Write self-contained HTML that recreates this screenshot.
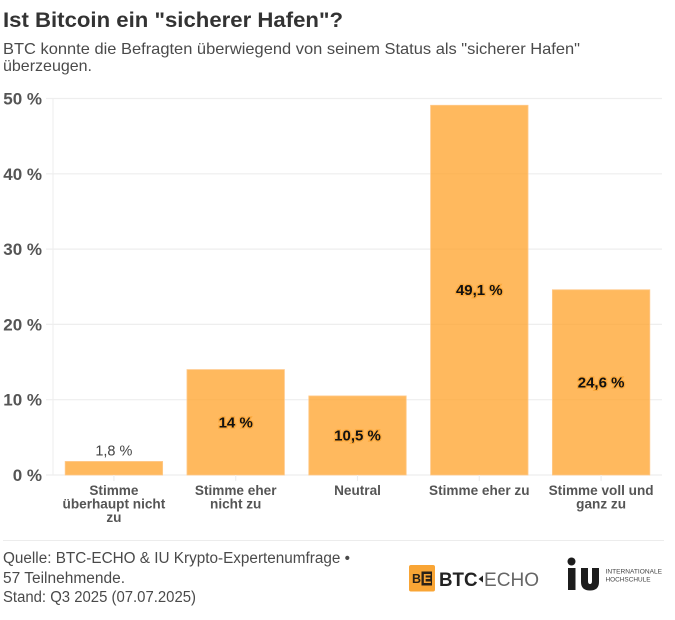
<!DOCTYPE html>
<html lang="de">
<head>
<meta charset="utf-8">
<title>Ist Bitcoin ein "sicherer Hafen"?</title>
<style>
html,body{margin:0;padding:0;background:#fff;}
#stage{position:relative;width:675px;height:620px;overflow:hidden;background:#fff;font-family:"Liberation Sans",sans-serif;}
svg{position:absolute;left:0;top:0;}
text{font-family:"Liberation Sans",sans-serif;}
</style>
</head>
<body>
<div id="stage">
<svg id="chart" width="675" height="620" viewBox="0 0 675 620">
  <text x="3" y="27" font-size="21.5" font-weight="700" fill="#333" textLength="340" lengthAdjust="spacingAndGlyphs">Ist Bitcoin ein "sicherer Hafen"?</text>
  <text x="3" y="54" font-size="16" fill="#4a4a4a" textLength="577" lengthAdjust="spacingAndGlyphs">BTC konnte die Befragten überwiegend von seinem Status als "sicherer Hafen"</text>
  <text x="3" y="71" font-size="16" fill="#4a4a4a" textLength="89" lengthAdjust="spacingAndGlyphs">überzeugen.</text>
  <g id="grid"></g>
  <g id="bars"></g>
  <g id="yticks"></g>
  <g id="xticks"></g>
  <g id="labels"></g>

  <line x1="3" x2="664" y1="540.5" y2="540.5" stroke="#ececec" stroke-width="1"/>
  <text x="3" y="563" font-size="15.5" fill="#4a4a4a" textLength="347" lengthAdjust="spacingAndGlyphs">Quelle: BTC-ECHO &amp; IU Krypto-Expertenumfrage •</text>
  <text x="3" y="583" font-size="15.5" fill="#4a4a4a" textLength="122" lengthAdjust="spacingAndGlyphs">57 Teilnehmende.</text>
  <text x="3" y="602" font-size="15.5" fill="#4a4a4a" textLength="193" lengthAdjust="spacingAndGlyphs">Stand: Q3 2025 (07.07.2025)</text>

  <g>
    <rect x="409" y="565" width="26" height="26.500" rx="2" fill="#f9a535"/>
    <rect x="421.500" y="571.500" width="10.500" height="14" fill="#2a2118"/>
    <text x="412" y="583" font-size="12.500" font-weight="700" fill="#2a2118">B</text>
    <text x="423" y="583" font-size="12.500" font-weight="700" fill="#f9a535">E</text>
    <text x="439" y="586" font-size="19.500" font-weight="700" fill="#222" textLength="38.500" lengthAdjust="spacingAndGlyphs">BTC</text>
    <polygon points="478.500,579 483,575.500 483,582.500" fill="#222"/>
    <text x="484" y="586" font-size="19.500" fill="#666" textLength="55" lengthAdjust="spacingAndGlyphs">ECHO</text>
  </g>
  <g>
    <circle cx="571.500" cy="561.500" r="4" fill="#1c1c1c"/>
    <rect x="568" y="568" width="7.500" height="22" fill="#1c1c1c"/>
    <path d="M581 568h7v13q0 3 2 3t2-3v-13h7v14q0 8.500-9 8.500t-9-8.500z" fill="#1c1c1c"/>
    <text x="605.500" y="573.500" font-size="6.500" fill="#444" textLength="56.500" lengthAdjust="spacingAndGlyphs">INTERNATIONALE</text>
    <text x="605.500" y="581.500" font-size="6.500" fill="#444" textLength="45" lengthAdjust="spacingAndGlyphs">HOCHSCHULE</text>
  </g>
</svg>
</div>
<script>
const categories = [
  ["Stimme", "überhaupt nicht", "zu"],
  ["Stimme eher", "nicht zu"],
  ["Neutral"],
  ["Stimme eher zu"],
  ["Stimme voll und", "ganz zu"]
];
const seriesValues = [1.8, 14, 10.5, 49.1, 24.6];
const valueLabels = ["1,8 %", "14 %", "10,5 %", "49,1 %", "24,6 %"];
const tickValues = [0, 10, 20, 30, 40, 50];
const tickLabels = ["0 %", "10 %", "20 %", "30 %", "40 %", "50 %"];

const NS = "http://www.w3.org/2000/svg";
const plotLeft = 53, plotRight = 662, plotBottom = 475, plotTop = 98.5, yMax = 50;
const band = (plotRight - plotLeft) / categories.length;
const barWidth = band * 0.8;
function yScale(v) { return plotBottom - (v / yMax) * (plotBottom - plotTop); }
function xCenter(i) { return plotLeft + band * (i + 0.5); }
function make(tag, attrs, parent) {
  const el = document.createElementNS(NS, tag);
  for (const k in attrs) el.setAttribute(k, attrs[k]);
  parent.appendChild(el);
  return el;
}
const gridG = document.getElementById("grid");
const barsG = document.getElementById("bars");
const yG = document.getElementById("yticks");
const xG = document.getElementById("xticks");
const labelG = document.getElementById("labels");

const axisLine = make("line", {x1: plotLeft, x2: plotLeft, y1: plotTop, y2: plotBottom, stroke: "#efefef", "stroke-width": 1.2}, gridG);



tickValues.forEach(function (v, i) {
  const y = yScale(v);
  const line = make("line", {x1: 46, x2: plotRight, y1: y, y2: y, stroke: "#eeeeee", "stroke-width": 1.2}, gridG);
  
  
  const t = make("text", {x: 42, y: y + 6, "text-anchor": "end", "font-size": 17, "font-weight": 700, fill: "#555"}, yG);
  
  
  t.textContent = tickLabels[i];
});

seriesValues.forEach(function (v, i) {
  const cx = xCenter(i), y = yScale(v);
  const bar = make("rect", {x: cx - barWidth / 2, y: y, width: barWidth, height: plotBottom - y, fill: "#ffa126", "fill-opacity": 0.74, stroke: "#ffc98a", "stroke-width": 0.8}, barsG);
  
  

  const tick = make("line", {x1: cx, x2: cx, y1: plotBottom, y2: plotBottom + 6, stroke: "#eeeeee", "stroke-width": 1.2}, xG);
  
  

  categories[i].forEach(function (row, r) {
    const c = make("text", {x: cx, y: 495 + r * 13.4, "text-anchor": "middle", "font-size": 13.6, "font-weight": 700, fill: "#555"}, xG);
    
    
    c.textContent = row;
  });

  const outside = plotBottom - y < 30;
  const ly = outside ? y - 6 : (y + plotBottom) / 2 + 5;
  const attrs = {x: cx, y: ly, "text-anchor": "middle", "font-size": outside ? 14.5 : 15, "font-weight": outside ? 400 : 700, fill: outside ? "#444" : "#111"};
  if (!outside) {
    attrs.stroke = "#f59a20";
    attrs["stroke-width"] = 2.5;
    attrs["stroke-opacity"] = 0.55;
    attrs["paint-order"] = "stroke";
  }
  const lab = make("text", attrs, labelG);
  
  
  lab.textContent = valueLabels[i];
});
</script>
</body>
</html>
